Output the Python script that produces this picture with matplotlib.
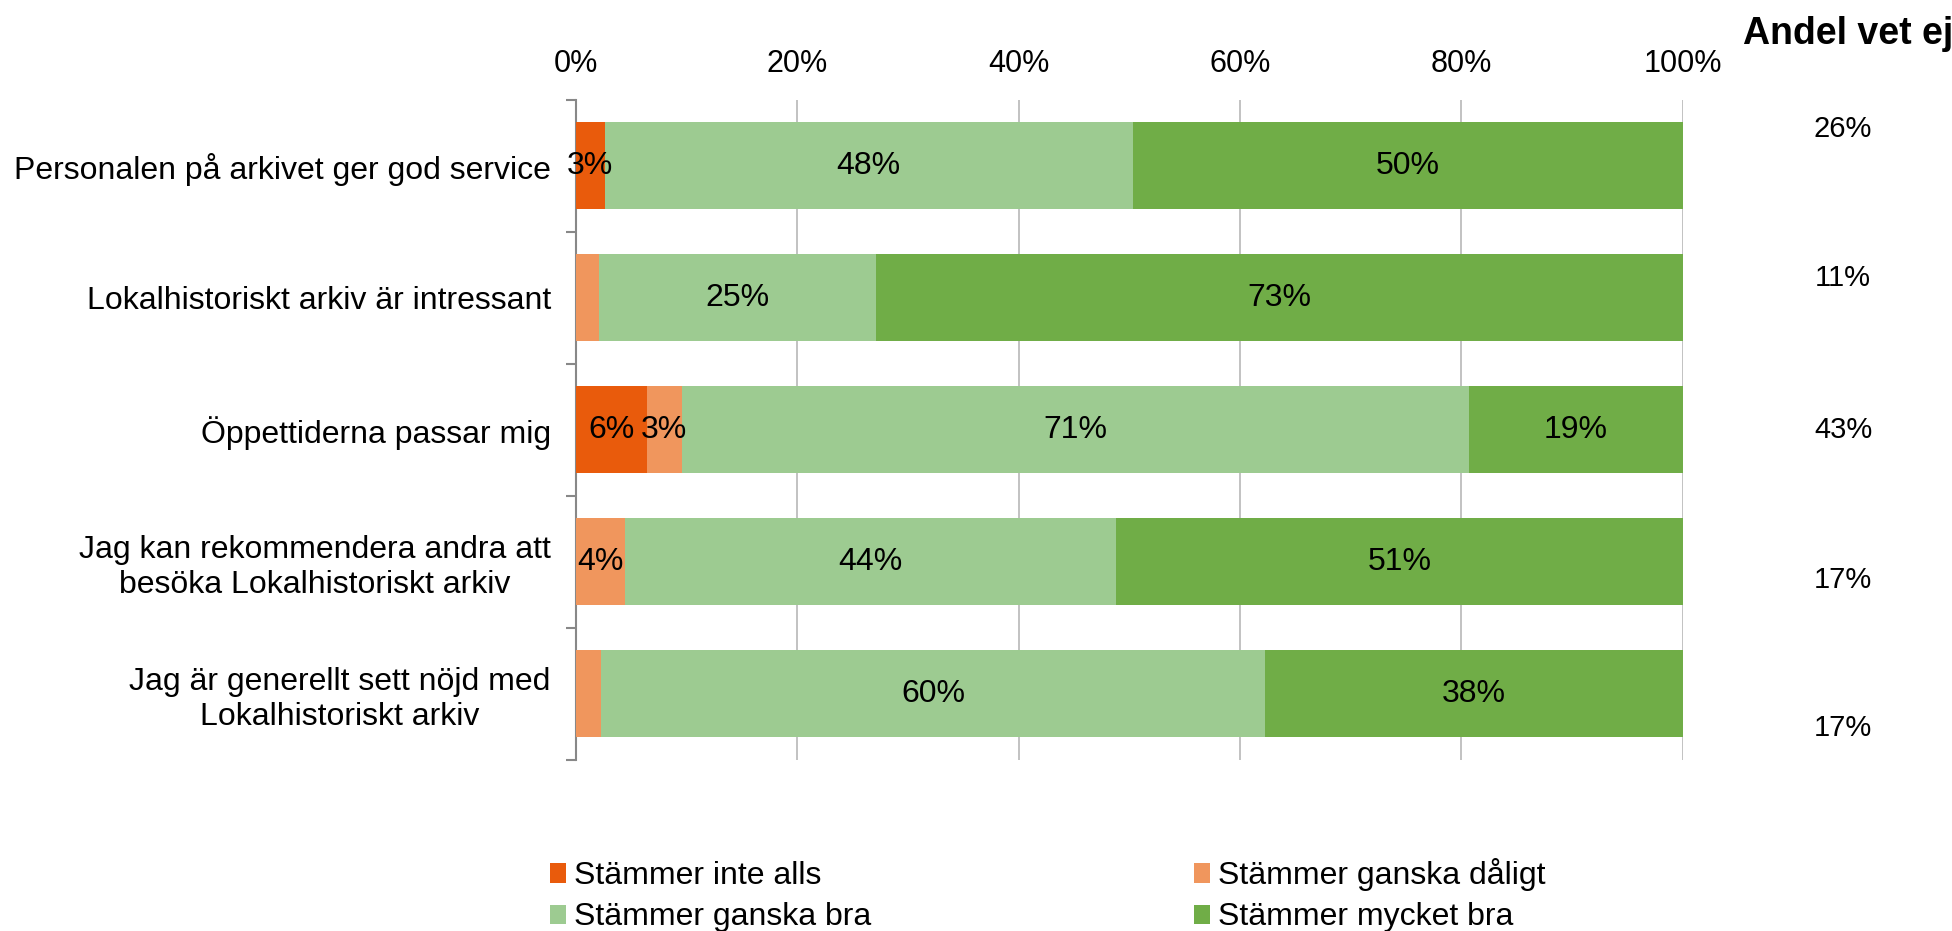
import numpy as np
import matplotlib.pyplot as plt

plt.rcParams['font.family'] = ['Liberation Sans', 'DejaVu Sans']

statements = ['Personalen på arkivet ger god service',
              'Lokalhistoriskt arkiv är intressant',
              'Öppettiderna passar mig',
              'Jag kan rekommendera andra att\nbesöka Lokalhistoriskt arkiv',
              'Jag är generellt sett nöjd med\nLokalhistoriskt arkiv']

series = ['Stämmer inte alls', 'Stämmer ganska dåligt',
          'Stämmer ganska bra', 'Stämmer mycket bra']

inte_alls = [2.6, 0.0, 6.4, 0.0, 0.0]
ganska_daligt = [0.0, 2.1, 3.2, 4.4, 2.3]
ganska_bra = [47.7, 25.0, 71.1, 44.4, 60.0]
mycket_bra = [49.7, 72.9, 19.3, 51.2, 37.7]

vet_ej = ['26%', '11%', '43%', '17%', '17%']

colors = ['#E95B0C', '#F0965D', '#9DCB91', '#70AD47']

fig = plt.figure(figsize=(19.52, 9.31), dpi=100)
ax = fig.add_axes([0.295, 0.184, 0.567, 0.709])

y = np.arange(len(statements))
left = np.zeros(len(statements))
handles = []
for name, vals, col in zip(series, [inte_alls, ganska_daligt, ganska_bra, mycket_bra], colors):
    vals = np.array(vals)
    b = ax.barh(y, vals, left=left, height=0.66, color=col, label=name, zorder=3)
    handles.append(b)
    for yi, l, v in zip(y, left, vals):
        if round(v) >= 3:
            ax.text(l + v / 2, yi, f'{v:.0f}%', ha='center', va='center',
                    fontsize=23, zorder=4)
    left += vals

ax.set_xlim(0, 100)
ax.set_ylim(4.5, -0.5)
ax.xaxis.tick_top()
ax.set_xticks(np.arange(0, 101, 20))
ax.set_xticklabels([f'{t}%' for t in range(0, 101, 20)])
ax.tick_params(axis='x', length=0, pad=15, labelsize=22)
ax.grid(axis='x', color='#BDBDBD', linewidth=1.3, zorder=0)

ax.set_yticks(y)
ax.set_yticklabels(statements, fontsize=23, multialignment='center')
ax.tick_params(axis='y', length=0, pad=18)
ax.set_yticks(np.arange(-0.5, 5, 1), minor=True)
ax.tick_params(axis='y', which='minor', length=7, color='#888888', width=1.5)

for s in ['top', 'right', 'bottom']:
    ax.spines[s].set_visible(False)
ax.spines['left'].set_color('#888888')
ax.spines['left'].set_linewidth(1.5)

# share of "don't know" answers to the right of the bars
offsets = [-0.28, -0.15, 0.0, 0.14, 0.26]
for yi, lab, off in zip(y, vet_ej, offsets):
    ax.text(114.5, yi + off, lab, ha='center', va='center', fontsize=21,
            clip_on=False)
fig.text(0.893, 0.963, 'Andel vet ej', ha='left', va='center',
         fontsize=27, fontweight='bold')

order = [0, 2, 1, 3]
ax.legend([handles[i] for i in order], [series[i] for i in order],
          loc='upper left', bbox_to_anchor=(-0.035, -0.13), ncol=2,
          frameon=False, fontsize=23, handlelength=0.5, handleheight=0.55,
          handletextpad=0.25, columnspacing=10.1, labelspacing=0.35,
          borderaxespad=0)

fig.savefig('out.png', dpi=100)
